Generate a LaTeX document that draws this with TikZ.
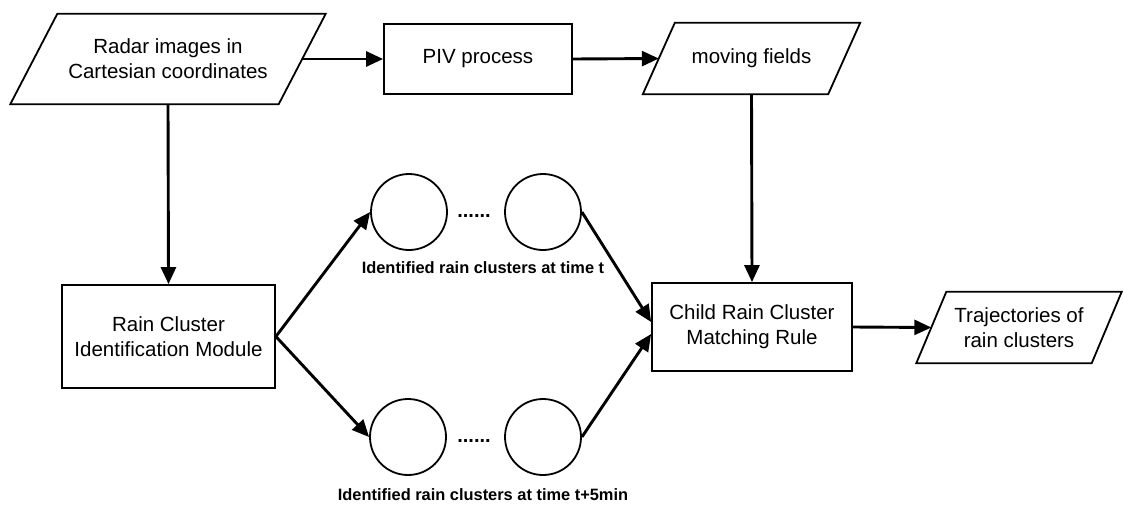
\documentclass[tikz,border=0pt]{standalone}
\usepackage{fontspec}
\setmainfont{Liberation Sans}
\usetikzlibrary{arrows.meta}

% outline of a data (input/output) block: a parallelogram around a named node
\newcommand\slantframe[2]{%
  \draw[frame] ([xshift=#2]#1.north west) -- ([xshift=#2]#1.north east)
    -- ([xshift=-#2]#1.south east) -- ([xshift=-#2]#1.south west) -- cycle;}

\begin{document}
\begin{tikzpicture}[x=1pt,y=-1pt,
  frame/.style={line width=1.8pt, line join=miter},
  boxtext/.style={align=center, inner sep=0pt, font=\fontsize{20.5}{25}\selectfont},
  box/.style={boxtext, draw, frame},
  iobox/.style={boxtext, draw=none},
  cluster/.style={circle, draw, line width=1.8pt, minimum size=76pt, inner sep=0pt},
  gap/.style={inner sep=0pt, font=\bfseries\fontsize{20}{20}\selectfont},
  note/.style={inner sep=0pt, font=\bfseries\fontsize{16.4}{18}\selectfont},
  flow/.style={line width=2.9pt, -{Triangle[length=17pt,width=15pt]}}]

\useasboundingbox (0,0) rectangle (1123,506);

% top row
\node[iobox, minimum width=268pt, minimum height=90pt] (radar) at (168,59)
  {Radar images in\\Cartesian coordinates};
\slantframe{radar}{23.5pt}
\node[box, minimum width=188pt, minimum height=70pt] (piv) at (478,59) {PIV process};
\node[iobox, minimum width=185pt, minimum height=71pt] (fields) at (751.5,58.5) {moving fields};
\slantframe{fields}{16pt}

% processing blocks
\node[box, minimum width=213pt, minimum height=103pt] (ident) at (168.5,336.5)
  {Rain Cluster\\Identification Module};
\node[box, minimum width=200pt, minimum height=88pt] (match) at (752,327)
  {Child Rain Cluster\\Matching Rule};
\node[iobox, minimum width=175pt, minimum height=71pt] (traj) at (1019,327.5)
  {Trajectories of\\rain clusters};
\slantframe{traj}{15pt}

% clusters at time t
\node[cluster] (t1) at (409,212) {};
\node[cluster] (t2) at (543,212) {};
\node[gap] (tdots) at (474,216) {......};
\node[note] (tlabel) at (483,268) {Identified rain clusters at time t};

% clusters at time t+5min
\node[cluster] (b1) at (408,437) {};
\node[cluster] (b2) at (543,437) {};
\node[gap] (bdots) at (474,441) {......};
\node[note] (blabel) at (483,495) {Identified rain clusters at time t+5min};

% connectors
\draw[flow] (radar.east) -- (piv.west);
\draw[flow] (piv.east) -- (fields.west);
\draw[flow] (radar.south) -- (ident.north);
\draw[flow] (fields.south) -- (match.north);
\draw[flow] (ident.east) -- (t1.west);
\draw[flow] (ident.east) -- (b1.west);
\draw[flow] (t2.east) -- ([yshift=5pt]match.west);
\draw[flow] (b2.east) -- ([yshift=-7pt]match.west);
\draw[flow] (match.east) -- (traj.west);
\end{tikzpicture}
\end{document}
